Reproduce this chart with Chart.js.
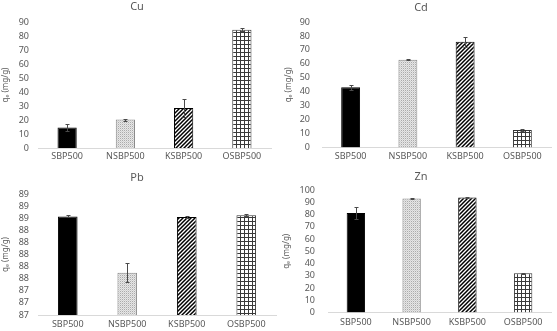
<!DOCTYPE html>
<html>
<head>
<meta charset="utf-8">
<script src="https://cdn.jsdelivr.net/npm/chart.js@4.4.1/dist/chart.umd.min.js"></script>
<style>
html,body{margin:0;padding:0;background:#fff;}
body{width:557px;height:331px;position:relative;overflow:hidden;}
.p{position:absolute;}
canvas{display:block;}
</style>
</head>
<body>
<div class="p" style="left:0;top:0"><canvas id="cu" width="277" height="165"></canvas></div>
<div class="p" style="left:277px;top:0"><canvas id="cd" width="280" height="165"></canvas></div>
<div class="p" style="left:0;top:165px"><canvas id="pb" width="277" height="166"></canvas></div>
<div class="p" style="left:277px;top:165px"><canvas id="zn" width="280" height="166"></canvas></div>
<script>
// ---- data ----
const categories = ['SBP500', 'NSBP500', 'KSBP500', 'OSBP500'];
const cuValues = [14.6, 20.3, 28.5, 84.5];
const cuErrors = [2.4, 0.7, 6.5, 1.0];
const cdValues = [43.3, 63.0, 75.8, 12.7];
const cdErrors = [1.7, 0.3, 3.5, 0.5];
const pbValues = [88.53, 87.60, 88.52, 88.55];
const pbErrors = [0.015, 0.16, 0.015, 0.015];
const znValues = [81.3, 93.1, 93.9, 32.0];
const znErrors = [4.8, 0.5, 0.3, 0.5];
const yTitle = 'qₑ (mg/g)';

// ---- patterns ----
function tile(w, h, draw) {
  const c = document.createElement('canvas');
  c.width = w; c.height = h;
  const x = c.getContext('2d');
  draw(x);
  return document.createElement('canvas').getContext('2d').createPattern(c, 'repeat');
}
const dotPattern = tile(2, 2, x => {
  x.fillStyle = '#e6e6e6'; x.fillRect(0, 0, 2, 2);
  x.fillStyle = '#ababab'; x.fillRect(0, 0, 1, 1);
  x.fillStyle = '#d2d2d2'; x.fillRect(1, 1, 1, 1);
});
const diagPattern = tile(4, 4, x => {
  x.fillStyle = '#fff'; x.fillRect(0, 0, 4, 4);
  x.strokeStyle = '#000'; x.lineWidth = 1.5;
  x.beginPath();
  x.moveTo(-1, 5); x.lineTo(5, -1);
  x.moveTo(-1, 1); x.lineTo(1, -1);
  x.moveTo(3, 5); x.lineTo(5, 3);
  x.stroke();
});
const gridPattern = tile(4, 4, x => {
  x.fillStyle = '#fff'; x.fillRect(0, 0, 4, 4);
  x.fillStyle = '#3a3a3a';
  x.fillRect(0, 0, 4, 1); x.fillRect(0, 0, 1, 4);
});
const fills = ['#000000', dotPattern, diagPattern, gridPattern];
const borders = ['#000000', '#8a8a8a', '#000000', '#333333'];

// ---- plugins ----
const errorBars = {
  id: 'errorBars',
  afterDatasetsDraw(chart, args, opts) {
    const ctx = chart.ctx, ys = chart.scales.y;
    const meta = chart.getDatasetMeta(0);
    const vals = chart.data.datasets[0].data;
    ctx.save();
    ctx.strokeStyle = '#4a4a4a'; ctx.lineWidth = 1;
    meta.data.forEach((bar, i) => {
      const e = opts.errors[i];
      const x = Math.round(bar.x) + 0.5;
      const t = Math.round(ys.getPixelForValue(vals[i] + e)) + 0.5;
      const b = Math.round(ys.getPixelForValue(vals[i] - e)) + 0.5;
      ctx.beginPath();
      ctx.moveTo(x, t); ctx.lineTo(x, b);
      ctx.moveTo(x - 2, t); ctx.lineTo(x + 2, t);
      ctx.moveTo(x - 2, b); ctx.lineTo(x + 2, b);
      ctx.stroke();
    });
    ctx.restore();
  }
};
const panelTitle = {
  id: 'panelTitle',
  afterDraw(chart, args, opts) {
    const ctx = chart.ctx;
    ctx.save();
    ctx.fillStyle = '#595959';
    ctx.font = '11px "Noto Sans", "DejaVu Sans", sans-serif';
    ctx.textAlign = 'center'; ctx.textBaseline = 'middle';
    ctx.fillText(opts.text, opts.x, opts.y);
    ctx.restore();
  }
};

const fontFam = '"Noto Sans", "DejaVu Sans", sans-serif';
function makeChart(id, title, values, errors, yOpts, lay) {
  const canvas = document.getElementById(id);
  const W = canvas.width, H = canvas.height;
  new Chart(canvas, {
    type: 'bar',
    data: {
      labels: categories,
      datasets: [{
        data: values,
        backgroundColor: fills,
        borderColor: borders,
        borderWidth: 1,
        borderSkipped: 'bottom',
        barPercentage: 0.33,
        categoryPercentage: 1.0
      }]
    },
    options: {
      responsive: false,
      devicePixelRatio: 1,
      animation: false,
      layout: { padding: { left: 0, top: lay.top, right: W - lay.right, bottom: 0 } },
      plugins: {
        legend: { display: false },
        tooltip: { enabled: false },
        errorBars: { errors: errors },
        panelTitle: { text: title, x: lay.tx, y: lay.ty }
      },
      scales: {
        x: {
          grid: { display: false, drawTicks: false },
          border: { display: true, color: '#d9d9d9', width: 1 },
          ticks: { color: '#595959', font: { size: 9, family: fontFam }, padding: lay.xpad, maxRotation: 0, autoSkip: false },
          afterFit: s => { s.height = H - lay.bottom; }
        },
        y: {
          min: yOpts.min, max: yOpts.max,
          grid: { display: false, drawTicks: false },
          border: { display: false },
          ticks: { stepSize: yOpts.step, autoSkip: false, color: '#595959', font: { size: 9, family: fontFam }, padding: lay.ypad,
                   callback: yOpts.cb || (v => String(v)) },
          title: { display: true, text: yTitle, color: '#595959', font: { size: 8, family: fontFam }, padding: { top: lay.ytp, bottom: 0 } },
          afterFit: s => { s.width = lay.left; }
        }
      }
    },
    plugins: [errorBars, panelTitle]
  });
}

makeChart('cu', 'Cu', cuValues, cuErrors,
  { min: 0, max: 90, step: 10 },
  { left: 38, right: 271, top: 22, bottom: 148, tx: 137, ty: 7, xpad: 3, ypad: 9, ytp: 1 });
makeChart('cd', 'Cd', cdValues, cdErrors,
  { min: 0, max: 90, step: 10 },
  { left: 45, right: 274, top: 22, bottom: 148, tx: 144, ty: 8, xpad: 3, ypad: 12, ytp: 7 });
makeChart('pb', 'Pb', pbValues, pbErrors,
  { min: 86.9, max: 88.9, step: 0.2, cb: v => String(Math.round(v + 1e-6)) },
  { left: 38, right: 276, top: 29, bottom: 150, tx: 137, ty: 13, xpad: 4, ypad: 9, ytp: 1 });
makeChart('zn', 'Zn', znValues, znErrors,
  { min: 0, max: 100, step: 10 },
  { left: 51, right: 274, top: 25, bottom: 150, tx: 144, ty: 12, xpad: 4, ypad: 13, ytp: 5 });
</script>
</body>
</html>
